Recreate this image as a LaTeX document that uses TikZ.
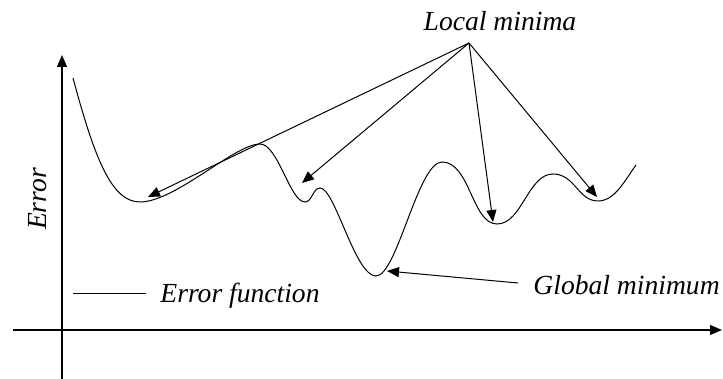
\documentclass[tikz,border=0pt]{standalone}
\usepackage{fontspec}
\setmainfont{Liberation Serif}[ItalicFont=Liberation Serif Italic]
\usetikzlibrary{arrows.meta}

\tikzset{
  label text/.style={font=\rmfamily\fontsize{13.8}{16}\selectfont\itshape, inner sep=0pt},
  pointer/.style={-{Triangle[length=6pt,width=5pt]}, line width=0.5pt},
  axis/.style={-{Triangle[length=6pt,width=5pt]}, line width=0.65pt}
}

\begin{document}
\begin{tikzpicture}[x=0.5pt,y=-0.5pt]
\useasboundingbox (0,0) rectangle (723,379);

% Axes
\coordinate (ybottom) at (62,379);
\coordinate (ytop) at (62,55);
\coordinate (xleft) at (13,330);
\coordinate (xright) at (722,330);
\draw[axis] (ybottom) -- (ytop);
\draw[axis] (xleft) -- (xright);

\node[label text, rotate=90] (error) at (38,199) {Error};

% Error function
\draw[line width=0.5pt] (73,78)
  .. controls (95,160) and (112,202) .. (140,202)
  .. controls (175,202) and (235,144) .. (260,144)
  .. controls (278,144) and (290,202) .. (305,202)
  .. controls (312,202) and (313,188) .. (320,188)
  .. controls (335,188) and (355,276) .. (376,276)
  .. controls (397,276) and (418,162) .. (442,162)
  .. controls (470,162) and (472,224) .. (497,224)
  .. controls (522,224) and (528,174) .. (553,174)
  .. controls (575,174) and (578,201) .. (598,201)
  .. controls (615,201) and (625,180) .. (636,165);

% Legend
\coordinate (legA) at (73,294);
\coordinate (legB) at (146,294);
\draw[line width=0.5pt] (legA) -- (legB);
\node[label text, anchor=west] (legend) at (160,296) {Error function};

% Local minima
\node[label text] (localmin) at (500,21) {Local minima};
\coordinate (apex) at (469,43);
\coordinate (m1) at (148,197);
\coordinate (m2) at (302,183);
\coordinate (m3) at (493,222);
\coordinate (m4) at (597,197);
\draw[pointer] (apex) -- (m1);
\draw[pointer] (apex) -- (m2);
\draw[pointer] (apex) -- (m3);
\draw[pointer] (apex) -- (m4);

% Global minimum
\node[label text, anchor=west] (globalmin) at (533,285) {Global minimum};
\coordinate (gtail) at (518,283);
\coordinate (gmin) at (387,271);
\draw[pointer] (gtail) -- (gmin);

\end{tikzpicture}
\end{document}
